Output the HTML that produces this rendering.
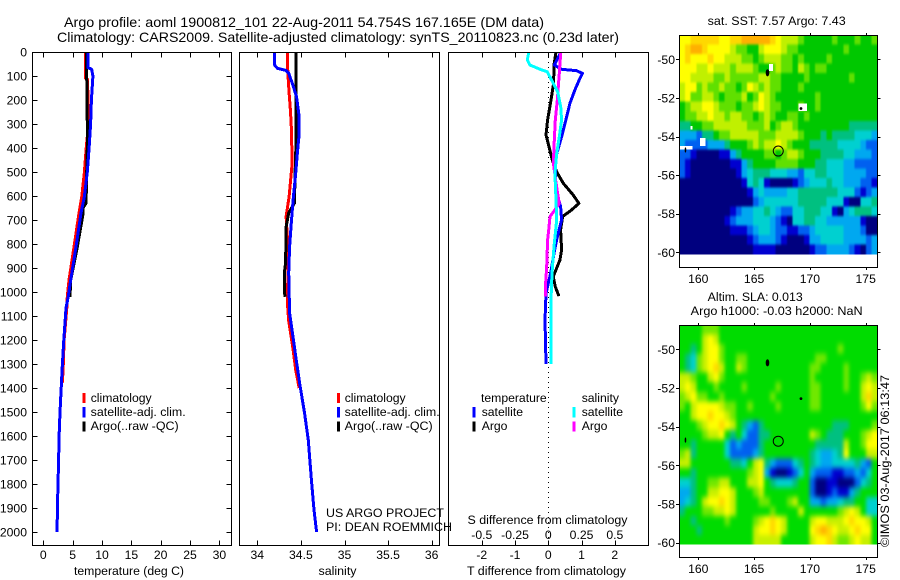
<!DOCTYPE html>
<html>
<head>
<meta charset="utf-8">
<title>Argo profile</title>
<style>
html,body{margin:0;padding:0;background:#fff;}
svg{display:block;}
text{font-family:"Liberation Sans",sans-serif;font-size:12.2px;fill:#000;}
.title{font-size:14px;}
</style>
</head>
<body>
<svg id="fig" xmlns="http://www.w3.org/2000/svg" width="900" height="580" viewBox="0 0 900 580">
<defs>
<filter id="soft-sst" filterUnits="userSpaceOnUse" x="670" y="25" width="220" height="240" color-interpolation-filters="sRGB">
<feGaussianBlur stdDeviation="0.9 1.4"/>
<feComponentTransfer><feFuncA type="linear" slope="4"/></feComponentTransfer>
</filter>
<filter id="soft-sla" filterUnits="userSpaceOnUse" x="670" y="315" width="220" height="240" color-interpolation-filters="sRGB">
<feGaussianBlur stdDeviation="1.8 2.6"/>
<feComponentTransfer><feFuncA type="linear" slope="4"/></feComponentTransfer>
</filter>
<clipPath id="clip-sst"><rect x="679.5" y="35.5" width="198" height="219"/></clipPath>
<clipPath id="clip-sla"><rect x="679.5" y="325.5" width="198" height="219"/></clipPath>
</defs>
<rect x="0" y="0" width="900" height="580" fill="#fff"/>
<text class="title" x="64" y="27" textLength="480" lengthAdjust="spacingAndGlyphs">Argo profile: aoml 1900812_101 22-Aug-2011 54.754S 167.165E (DM data)</text>
<text class="title" x="57" y="42" textLength="562" lengthAdjust="spacingAndGlyphs">Climatology: CARS2009. Satellite-adjusted climatology: synTS_20110823.nc (0.23d later)</text>
<g id="maps"></g>
<g id="profiles"></g>

<text x="74" y="575" textLength="110" lengthAdjust="spacingAndGlyphs">temperature (deg C)</text>
<text x="318.5" y="575" textLength="38" lengthAdjust="spacingAndGlyphs">salinity</text>
<text x="467" y="575" textLength="159" lengthAdjust="spacingAndGlyphs">T difference from climatology</text>
<text x="467.5" y="524" textLength="160" lengthAdjust="spacingAndGlyphs">S difference from climatology</text>

<g>
<rect x="82.5" y="393" width="3" height="10" fill="#f00"/>
<rect x="82.5" y="407" width="3" height="10.5" fill="#00f"/>
<rect x="82.5" y="421.5" width="3" height="10" fill="#000"/>
<text x="90.7" y="402">climatology</text>
<text x="90.7" y="416" textLength="95" lengthAdjust="spacingAndGlyphs">satellite-adj. clim.</text>
<text x="90.7" y="430" textLength="88" lengthAdjust="spacingAndGlyphs">Argo(..raw -QC)</text>
</g>
<g>
<rect x="337" y="393" width="3" height="10" fill="#f00"/>
<rect x="337" y="407" width="3" height="10.5" fill="#00f"/>
<rect x="337" y="421.5" width="3" height="10" fill="#000"/>
<text x="344.7" y="402">climatology</text>
<text x="344.7" y="416" textLength="95" lengthAdjust="spacingAndGlyphs">satellite-adj. clim.</text>
<text x="344.7" y="430" textLength="88" lengthAdjust="spacingAndGlyphs">Argo(..raw -QC)</text>
</g>
<g>
<text x="481" y="402">temperature</text>
<text x="581.7" y="402">salinity</text>
<rect x="472.5" y="407" width="3" height="10.5" fill="#00f"/>
<rect x="472.5" y="421.5" width="3" height="10" fill="#000"/>
<rect x="572.5" y="407" width="3" height="10.5" fill="#0ff"/>
<rect x="572.5" y="421.5" width="3" height="10" fill="#f0f"/>
<text x="481.7" y="416">satellite</text>
<text x="481.7" y="430">Argo</text>
<text x="581.7" y="416">satellite</text>
<text x="581.7" y="430">Argo</text>
</g>
<text x="326" y="517" textLength="118" lengthAdjust="spacingAndGlyphs">US ARGO PROJECT</text>
<text x="326" y="531" textLength="126" lengthAdjust="spacingAndGlyphs">PI: DEAN ROEMMICH</text>

<text x="707.7" y="25" textLength="138" lengthAdjust="spacingAndGlyphs">sat. SST: 7.57 Argo: 7.43</text>
<text x="707.7" y="301" textLength="95" lengthAdjust="spacingAndGlyphs">Altim. SLA: 0.013</text>
<text x="690.7" y="315" textLength="172" lengthAdjust="spacingAndGlyphs">Argo h1000: -0.03 h2000: NaN</text>
<text transform="translate(889,547) rotate(-90)" textLength="172" lengthAdjust="spacingAndGlyphs">©IMOS 03-Aug-2017 06:13:47</text>
</svg>

<script>
/* ---------- profile data ---------- */
const depthTicks = [0,100,200,300,400,500,600,700,800,900,1000,1100,1200,1300,1400,1500,1600,1700,1800,1900,2000];
const tempTicks = [0,5,10,15,20,25,30];
const salTicks = [34,34.5,35,35.5,36];
const salTickLabels = ['34','34.5','35','35.5','36'];
const diffTTicks = [-2,-1,0,1,2];
const diffSTicks = [-0.5,-0.25,0,0.25,0.5];
const diffSTickLabels = ['-0.5','-0.25','0','0.25','0.5'];

const tempClimDepth = [0,110,115,200,300,400,500,604,671,812,950,1020,1067,1200,1300,1378];
const tempClimValues = [7.2,7.2,7.55,7.6,7.7,7.3,7.0,6.54,6.08,5.23,4.38,4.09,4.0,3.55,3.4,3.25];
const tempArgoDepth = [0,100,300,400,500,600,630,650,671,812,950,1020];
const tempArgoValues = [7.4,7.4,7.5,7.5,7.4,7.3,7.28,6.75,6.8,5.8,4.66,4.55];
const tempSatDepth = [0,65,72,100,200,300,400,500,604,671,812,950,1020,1067,1200,1300,1400,1500,1600,1700,1800,1900,2000];
const tempSatValues = [7.6,7.6,8.25,8.45,8.2,8.05,7.8,7.5,6.98,6.42,5.57,4.66,4.25,3.87,3.5,3.25,3.05,2.85,2.7,2.6,2.5,2.4,2.35];

const salClimDepth = [0,85,171,242,311,463,520,603,686,837,1046,1120,1240,1325,1400];
const salClimValues = [34.345,34.35,34.365,34.38,34.39,34.40,34.385,34.365,34.33,34.355,34.345,34.36,34.41,34.44,34.48];
const salArgoDepth = [0,366,492,630,670,729,879,920,1000,1020];
const salArgoValues = [34.445,34.445,34.435,34.425,34.36,34.33,34.325,34.31,34.31,34.32];
const salSatDepth = [0,55,68,77,88,130,185,270,340,420,505,617,712,812,920,1088,1290,1390,1500,1617,1783,1908,2000];
const salSatValues = [34.2,34.2,34.23,34.33,34.36,34.40,34.45,34.48,34.48,34.46,34.44,34.41,34.39,34.37,34.36,34.37,34.45,34.49,34.54,34.585,34.62,34.65,34.68];

const diffTArgoDepth = [3,54,131,200,283,346,394,450,499,547,596,631,658,686,742,825,867,936,978,1017];
const diffTArgoValues = [0.23,0.17,0.16,0.08,-0.02,-0.07,0.02,0.12,0.25,0.45,0.75,0.92,0.70,0.43,0.37,0.40,0.35,0.15,0.21,0.32];
const diffTSatDepth = [3,54,72,78,89,110,158,214,283,353,436,506,575,644,700,783,839,922,1006,1117,1300];
const diffTSatValues = [0.37,0.18,0.40,0.85,1.03,0.95,0.80,0.65,0.53,0.40,0.23,0.21,0.23,0.37,0.40,0.25,0.17,0.07,-0.07,-0.10,-0.07];
const diffSArgoDepth = [3,89,200,283,367,464,533,589,631,658,686,742,783,894,978,1019];
const diffSArgoValues = [0.093,0.083,0.068,0.053,0.045,0.038,0.055,0.07,0.083,0.05,0.013,0.003,-0.005,-0.012,-0.022,-0.022];
const diffSSatDepth = [3,33,54,72,82,117,165,228,283,353,422,506,617,700,811,922,1033,1117,1300];
const diffSSatValues = [-0.147,-0.158,-0.138,-0.062,-0.008,0.025,0.07,0.093,0.10,0.083,0.063,0.05,0.058,0.063,0.043,0.028,0.02,0.022,0.02];

/* ---------- map data: one character per 0.5 degree cell, 0 = coldest/lowest, b = warmest/highest ---------- */
const lonTicks = [160,165,170,175];
const latTicks = [-50,-52,-54,-56,-58,-60];
const profileLon = [167.165];
const profileLat = [-54.754];
const sstRows = [
"99aaa aa99a abbbb ba988 87666 66766 67667",
"9abba 99998 77668 99987 76666 66667 66666",
"9a999 a9988 87767 88877 67666 67666 66666",
"99988 98887 88876 67877 68767 76666 66666",
"99888 87787 77778 87766 66766 66666 76666",
"89978 77877 67987 87766 67666 66666 66666",
"89778 87677 78679 87666 66667 66666 66666",
"67889 98777 67789 87766 67667 66666 66666",
"67788 98878 87767 87667 76766 66666 66666",
"55667 78888 88777 86788 76666 66666 55555",
"33325 56778 88887 77888 87666 56555 54443",
"32222 33356 66787 88987 66655 55544 44322",
"22100 00113 56666 77678 87666 55554 43332",
"21000 00001 13566 66777 76665 54443 32222",
"21000 00000 13455 54443 32445 54443 33322",
"00000 00000 01454 10000 12344 45443 33221",
"00000 00000 00134 33334 45555 55544 42123",
"00000 00000 00023 44444 45555 54441 00445",
"00000 00001 23344 54322 44555 44103 45554",
"00000 00012 33344 43210 44554 43333 33100",
"00000 00001 11234 43221 12234 44443 33200",
"00000 00000 00123 33210 00133 44443 33323",
"00000 00000 00011 11000 00012 23333 21023"
];
const slaRows = [
"66667 77666 66666 66666 66666 66666 66666",
"66668 98666 66666 66666 66666 66666 66666",
"66568 99766 66666 66666 66666 66676 66666",
"65478 99766 77666 66666 66667 76666 66666",
"65478 9a866 87666 66666 66677 66667 66666",
"88766 89766 66666 66666 66676 66667 66787",
"89866 67666 67666 66766 66677 66667 66898",
"78977 66766 66666 67666 66677 66666 668a8",
"76899 99877 66766 66766 66677 66666 66797",
"66899 a9987 66666 66666 66666 66666 66666",
"66678 99a98 65325 66666 66666 66555 66667",
"66667 88965 64225 56666 66687 65556 66789",
"66566 66642 32225 66666 66665 55558 66799",
"78566 66642 22235 66666 66654 33459 66688",
"88666 66665 54689 53222 45654 33444 45326",
"66566 66666 66789 31001 24632 22112 23246",
"44566 77886 66889 65444 56620 01100 02456",
"33566 88998 66678 66666 66620 01211 35666",
"34568 99a98 66667 76667 86633 23345 56644",
"56667 78898 66666 67666 68666 66678 98644",
"66566 66676 66678 9a986 66689 98889 a9986",
"66656 66666 66689 9a986 6669a ba988 9a996",
"66666 66666 66688 88866 66689 9a877 89886"
];
const sstMissingWest = [166.33,168.96,158.3,160.15,159.3];
const sstMissingEast = [166.7,169.74,159.5,160.66,159.5];
const sstMissingNorth = [-50.24,-52.28,-54.5,-54.08,-53.45];
const sstMissingSouth = [-50.6,-52.68,-54.67,-54.5,-53.65];
const islandLon = [166.2,169.2,158.85];
const islandLat = [-50.7,-52.55,-54.7];
const islandRadiusPx = [[1.8,3.6],[1.4,1.4],[0.8,2.6]];
const sstColours = ['#00007f','#0000d0','#0060f0','#00a8f0','#00d0d0','#00c080','#00c800','#60e000','#c0f000','#ffff00','#ffd800','#ffb000'];
const slaColours = ['#00007f','#0000d0','#0060f0','#00a8f0','#00d0d0','#00c080','#00dc00','#70e800','#c8f000','#ffff00','#ffd800','#ffb000'];

/* ---------- axis functions ---------- */
const PANEL_TOP = 52, PANEL_BOTTOM = 545;
const depthY = d => 52 + d * 0.24;
const tempX = t => 43.3 + 5.87 * t;
const salX = s => 257.3 + 87.2 * (s - 34);
const diffTX = t => 548.3 + 33.25 * t;
const diffSX = s => 548.3 + 133 * s;
const lonX = lon => 698.3 + 11.16 * (lon - 160);
const latYTop = lat => 59.3 + 19.3 * (-50 - lat);
const latYBottom = lat => 349.3 + 19.33 * (-50 - lat);

const NS = 'http://www.w3.org/2000/svg';
function mk(tag, parent, attrs, txt) {
  const e = document.createElementNS(NS, tag);
  for (const k in attrs) e.setAttribute(k, attrs[k]);
  if (txt !== undefined) e.textContent = txt;
  parent.appendChild(e);
  return e;
}
const profiles = document.getElementById('profiles');
const maps = document.getElementById('maps');

function pathFrom(depths, values, xf) {
  return depths.map((d, i) => xf(values[i]).toFixed(1) + ',' + depthY(d).toFixed(1)).join(' ');
}
function addBox(parent, x0, x1, y0, y1) {
  const el = mk('rect', parent, {x:x0, y:y0, width:x1-x0, height:y1-y0, fill:'none', stroke:'#000', 'stroke-width':1, 'shape-rendering':'crispEdges'});
  
  
}
function addLine(parent, points, colour, name) {
  const el = mk('polyline', parent, {points:points, fill:'none', stroke:colour, 'stroke-width':3, 'stroke-linejoin':'round', 'shape-rendering':'crispEdges'});
  
  
}
function addXTicks(parent, ticks, labels, xf, y0, y1, withTop, labelY) {
  ticks.forEach((t, i) => {
    const x = Math.round(xf(t)) + 0.5;
    const bottom = mk('line', parent, {x1:x, x2:x, y1:y1, y2:y1-5, stroke:'#000', 'shape-rendering':'crispEdges'});
    
    
    if (withTop) {
      const top = mk('line', parent, {x1:x, x2:x, y1:y0, y2:y0+5, stroke:'#000', 'shape-rendering':'crispEdges'});
      
      
    }
    const lab = mk('text', parent, {x:xf(t), y:labelY, 'text-anchor':'middle'}, labels[i]);
    
    
  });
}

/* temperature panel */
const tempPanel = mk('g', profiles, {});


addLine(tempPanel, pathFrom(tempClimDepth, tempClimValues, tempX), '#f00', 'temperature-climatology-line');
addLine(tempPanel, pathFrom(tempArgoDepth, tempArgoValues, tempX), '#000', 'temperature-argo-line');
addLine(tempPanel, pathFrom(tempSatDepth, tempSatValues, tempX), '#00f', 'temperature-satellite-line');
addBox(tempPanel, 32.5, 231.5, PANEL_TOP + 0.5, PANEL_BOTTOM + 0.5);
addXTicks(tempPanel, tempTicks, tempTicks.map(String), tempX, 52.5, 545.5, true, 559);
depthTicks.forEach(d => {
  const y = Math.round(depthY(d)) + 0.5;
  const l = mk('line', tempPanel, {x1:32.5, x2:37.5, y1:y, y2:y, stroke:'#000', 'shape-rendering':'crispEdges'});
  
  
  const r = mk('line', tempPanel, {x1:226.5, x2:231.5, y1:y, y2:y, stroke:'#000', 'shape-rendering':'crispEdges'});
  
  
  const t = mk('text', tempPanel, {x:27, y:depthY(d) + 4.5, 'text-anchor':'end'}, String(d));
  
  
});

/* salinity panel */
const salPanel = mk('g', profiles, {});


addLine(salPanel, pathFrom(salClimDepth, salClimValues, salX), '#f00', 'salinity-climatology-line');
addLine(salPanel, pathFrom(salArgoDepth, salArgoValues, salX), '#000', 'salinity-argo-line');
addLine(salPanel, pathFrom(salSatDepth, salSatValues, salX), '#00f', 'salinity-satellite-line');
addBox(salPanel, 239.5, 439.5, PANEL_TOP + 0.5, PANEL_BOTTOM + 0.5);
addXTicks(salPanel, salTicks, salTickLabels, salX, 52.5, 545.5, true, 559);

/* difference panel */
const diffPanel = mk('g', profiles, {});


const zeroLine = mk('line', diffPanel, {x1:548.5, x2:548.5, y1:52, y2:545, stroke:'#000', 'stroke-dasharray':'1 4', 'shape-rendering':'crispEdges'});


addLine(diffPanel, pathFrom(diffTArgoDepth, diffTArgoValues, diffTX), '#000', 'difference-t-argo-line');
addLine(diffPanel, pathFrom(diffTSatDepth, diffTSatValues, diffTX), '#00f', 'difference-t-satellite-line');
addLine(diffPanel, pathFrom(diffSArgoDepth, diffSArgoValues, diffSX), '#f0f', 'difference-s-argo-line');
addLine(diffPanel, pathFrom(diffSSatDepth, diffSSatValues, diffSX), '#0ff', 'difference-s-satellite-line');
addBox(diffPanel, 448.5, 648.5, PANEL_TOP + 0.5, PANEL_BOTTOM + 0.5);
addXTicks(diffPanel, diffTTicks, diffTTicks.map(String), diffTX, 52.5, 545.5, true, 559);
diffSTicks.forEach((s, i) => {
  const t = mk('text', diffPanel, {x:diffSX(s), y:539, 'text-anchor':'middle'}, diffSTickLabels[i]);
  
  
});

/* maps */
function drawMap(rows, colours, latY, top, clipId, filterId, name) {
  const g = mk('g', maps, {});
  
  
  const clip = mk('g', g, {'clip-path':'url(#' + clipId + ')'});
  
  
  const raster = mk('g', clip, {filter:'url(#' + filterId + ')'});
  
  
  const lonStart = 158.3, lonStep = 17.74 / 35;
  const latStart = -50 + (latY(-50) - top) / 19.3, latStep = -(latStart + 60.1) / rows.length;
  rows.forEach((row, r) => {
    const chars = row.replace(/ /g, '');
    for (let c = 0; c < chars.length; c++) {
      const x0 = lonX(lonStart + c * lonStep), x1 = lonX(lonStart + (c + 1) * lonStep);
      const y0 = latY(latStart + r * latStep), y1 = latY(latStart + (r + 1) * latStep);
      const cell = mk('rect', raster, {x:x0.toFixed(2), y:y0.toFixed(2), width:(x1 - x0 + 0.6).toFixed(2), height:(y1 - y0 + 0.6).toFixed(2), fill:colours[parseInt(chars[c], 16)], 'shape-rendering':'crispEdges'});
      
      
    }
  });
  return g;
}
function finishMap(g, latY, top, bottom) {
  islandLon.forEach((lon, i) => {
    const isl = mk('ellipse', g, {cx:lonX(lon), cy:latY(islandLat[i]), rx:islandRadiusPx[i][0], ry:islandRadiusPx[i][1], fill:'#000'});
    
    
  });
  const ring = mk('circle', g, {cx:lonX(profileLon[0]), cy:latY(profileLat[0]), r:5, fill:'none', stroke:'#000', 'stroke-width':1});
  
  
  addBox(g, 679.5, 877.5, top + 0.5, bottom + 0.5);
  lonTicks.forEach(lon => {
    const x = Math.round(lonX(lon)) + 0.5;
    const tt = mk('line', g, {x1:x, x2:x, y1:top - 2, y2:top, stroke:'#000', 'shape-rendering':'crispEdges'});
    
    
    const tb = mk('line', g, {x1:x, x2:x, y1:bottom, y2:bottom + 3, stroke:'#000', 'shape-rendering':'crispEdges'});
    
    
    const lab = mk('text', g, {x:lonX(lon), y:bottom + 16, 'text-anchor':'middle'}, String(lon));
    
    
  });
  latTicks.forEach(lat => {
    const y = Math.round(latY(lat)) + 0.5;
    const tl = mk('line', g, {x1:676, x2:679.5, y1:y, y2:y, stroke:'#000', 'shape-rendering':'crispEdges'});
    
    
    const tr = mk('line', g, {x1:877.5, x2:880.5, y1:y, y2:y, stroke:'#000', 'shape-rendering':'crispEdges'});
    
    
    const lab = mk('text', g, {x:675, y:latY(lat) + 4.5, 'text-anchor':'end'}, String(lat));
    
    
  });
}
const sstMap = drawMap(sstRows, sstColours, latYTop, 35, 'clip-sst', 'soft-sst', 'sst-map');
sstMissingWest.forEach((w, i) => {
  const m = mk('rect', sstMap, {x:lonX(w), y:latYTop(sstMissingNorth[i]), width:lonX(sstMissingEast[i]) - lonX(w), height:latYTop(sstMissingSouth[i]) - latYTop(sstMissingNorth[i]), fill:'#fff', 'shape-rendering':'crispEdges'});
  
  
});
finishMap(sstMap, latYTop, 35, 267);
const slaMap = drawMap(slaRows, slaColours, latYBottom, 325, 'clip-sla', 'soft-sla', 'sla-map');
finishMap(slaMap, latYBottom, 325, 557);
</script>
</body>
</html>
